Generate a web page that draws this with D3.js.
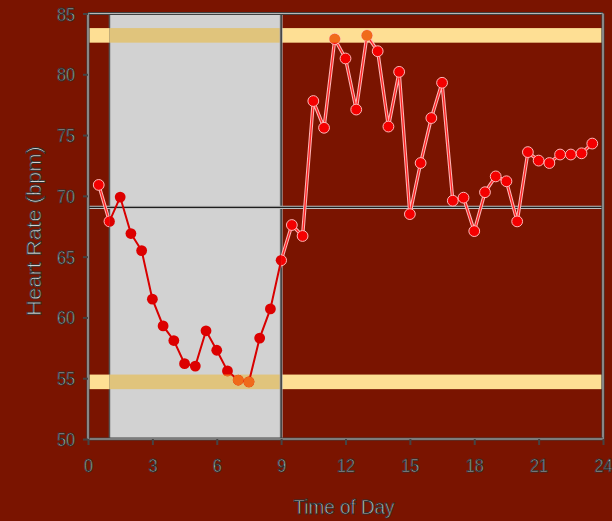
<!DOCTYPE html>
<html><head><meta charset="utf-8">
<script src="https://cdn.jsdelivr.net/npm/d3@7"></script>
<style>
html,body{margin:0;padding:0;background:#7a1400;}
svg{display:block;}
text{font-family:"Liberation Sans",Arial,sans-serif;fill:#d2d2d2;stroke:#2e2e2e;stroke-width:0.9px;}
</style></head><body>
<svg id="chart" width="612" height="521"></svg>
<script>
// ---- data ----
const hours = [0.5,1,1.5,2,2.5,3,3.5,4,4.5,5,5.5,6,6.5,7,7.5,8,8.5,9,9.5,10,10.5,11,11.5,12,12.5,13,13.5,14,14.5,15,15.5,16,16.5,17,17.5,18,18.5,19,19.5,20,20.5,21,21.5,22,22.5,23,23.5];
const heartRate = [70.9,67.9,69.9,66.9,65.5,61.5,59.3,58.1,56.2,56.0,58.9,57.3,55.6,54.85,54.7,58.3,60.7,64.7,67.6,66.7,77.8,75.6,82.9,81.3,77.1,83.2,81.9,75.7,80.2,68.5,72.7,76.4,79.3,69.6,69.85,67.1,70.3,71.6,71.2,67.9,73.6,72.9,72.7,73.4,73.4,73.5,74.3];
const xTicks = [0,3,6,9,12,15,18,21,24];
const yTicks = [50,55,60,65,70,75,80,85];
const nightShade = [1, 9];   // shaded (sleep) period, hours
const bandHalfWidth = 0.6;   // half width of the min / max bands, bpm
const xTitle = "Time of Day";
const yTitle = "Heart Rate (bpm)";

// ---- layout ----
const L = 88, R = 603, T = 13.5, B = 439;
const svg = d3.select("#chart");
const x = d3.scaleLinear().domain([0,24]).range([L,R]);
const y = d3.scaleLinear().domain([50,85]).range([B,T]);

const pts = hours.map((h,i)=>({h, v:heartRate[i]}));
const meanV = d3.mean(heartRate);
const bands = [d3.max(heartRate), d3.min(heartRate)];

const defs = svg.append("defs");
const cDark = defs.append("clipPath").attr("id","cDark");
cDark.append("rect").attr("x",L).attr("y",T).attr("width",x(nightShade[0])-L).attr("height",B-T);
cDark.append("rect").attr("x",x(nightShade[1])).attr("y",T).attr("width",R-x(nightShade[1])).attr("height",B-T);
const cNight = defs.append("clipPath").attr("id","cNight");
cNight.append("rect").attr("x",x(nightShade[0])).attr("y",T).attr("width",x(nightShade[1])-x(nightShade[0])).attr("height",B-T);
const cBand = defs.append("clipPath").attr("id","cBand");
bands.forEach(b=>cBand.append("rect").attr("x",L).attr("width",R-L)
  .attr("y",y(b+bandHalfWidth)).attr("height",y(b-bandHalfWidth)-y(b+bandHalfWidth)));

svg.append("rect").attr("x",L).attr("y",T).attr("width",R-L).attr("height",B-T).attr("fill","#7a1400");
svg.append("rect").attr("x",x(nightShade[0])).attr("y",T)
  .attr("width",x(nightShade[1])-x(nightShade[0])).attr("height",B-T)
  .attr("fill","#d2d2d2").attr("stroke","#555").attr("stroke-width",1.5);

bands.forEach(b=>{
  const g = svg.append("g");
  g.append("rect").attr("clip-path","url(#cDark)").attr("x",L).attr("width",R-L)
   .attr("y",y(b+bandHalfWidth)).attr("height",y(b-bandHalfWidth)-y(b+bandHalfWidth))
   .attr("fill","#fedf94");
  g.append("rect").attr("clip-path","url(#cNight)").attr("x",L).attr("width",R-L)
   .attr("y",y(b+bandHalfWidth)).attr("height",y(b-bandHalfWidth)-y(b+bandHalfWidth))
   .attr("fill","#e0c47c");
});

svg.append("line").attr("x1",x(nightShade[1])).attr("x2",x(nightShade[1])).attr("y1",T).attr("y2",B)
  .attr("stroke","#aaa").attr("stroke-width",3);
svg.append("line").attr("x1",x(nightShade[1])).attr("x2",x(nightShade[1])).attr("y1",T).attr("y2",B)
  .attr("stroke","#222").attr("stroke-width",1.2);

svg.append("line").attr("x1",L).attr("x2",R).attr("y1",y(meanV)).attr("y2",y(meanV))
  .attr("stroke","#bdbdbd").attr("stroke-width",3.2);
svg.append("line").attr("x1",L).attr("x2",R).attr("y1",y(meanV)).attr("y2",y(meanV))
  .attr("stroke","#1e1e1e").attr("stroke-width",1.2);

const line = d3.line().x(d=>x(d.h)).y(d=>y(d.v));
svg.append("path").datum(pts).attr("clip-path","url(#cNight)").attr("d",line)
  .attr("fill","none").attr("stroke","#d80000").attr("stroke-width",2);
svg.append("path").datum(pts).attr("clip-path","url(#cDark)").attr("d",line)
  .attr("fill","none").attr("stroke","#ffb4b4").attr("stroke-width",3.4);
svg.append("path").datum(pts).attr("clip-path","url(#cDark)").attr("d",line)
  .attr("fill","none").attr("stroke","#ff2020").attr("stroke-width",1.3);

svg.append("g").attr("clip-path","url(#cDark)").selectAll("circle").data(pts).join("circle")
  .attr("cx",d=>x(d.h)).attr("cy",d=>y(d.v)).attr("r",5.4)
  .attr("fill","#f40000").attr("stroke","#ffb8b8").attr("stroke-width",1);
svg.append("g").attr("clip-path","url(#cNight)").selectAll("circle").data(pts).join("circle")
  .attr("cx",d=>x(d.h)).attr("cy",d=>y(d.v)).attr("r",5.4).attr("fill","#dc0000");
svg.append("g").attr("clip-path","url(#cBand)").selectAll("circle").data(pts).join("circle")
  .attr("cx",d=>x(d.h)).attr("cy",d=>y(d.v)).attr("r",5.4).attr("fill","#f06a1a");

function frameLine(x1,y1,x2,y2){
  svg.append("line").attr("x1",x1).attr("y1",y1).attr("x2",x2).attr("y2",y2)
    .attr("stroke","#404040").attr("stroke-width",3.2);
  svg.append("line").attr("x1",x1).attr("y1",y1).attr("x2",x2).attr("y2",y2)
    .attr("stroke","#b8b8b8").attr("stroke-width",1.2);
}
frameLine(L,T,R,T); frameLine(R,T,R,B); frameLine(L,B,R,B); frameLine(L,T,L,B);

const xAxis = svg.append("g").attr("transform",`translate(0,${B})`)
  .call(d3.axisBottom(x).tickValues(xTicks).tickSize(6).tickPadding(8));
const yAxis = svg.append("g").attr("transform",`translate(${L},0)`)
  .call(d3.axisLeft(y).tickValues(yTicks).tickSize(5).tickPadding(8));
[xAxis,yAxis].forEach(a=>{
  a.select(".domain").remove();
  a.selectAll(".tick line").attr("stroke","#444").attr("stroke-width",2);
  a.selectAll(".tick text").attr("font-size",18).attr("fill",null).attr("stroke",null);
});
xAxis.selectAll(".tick text").attr("dy",null).attr("y",null)
  .attr("transform","translate(0,33) scale(0.9,1)");
yAxis.selectAll(".tick text").attr("x",null).attr("dy",null)
  .attr("transform","translate(-13,6.5) scale(0.9,1)");

svg.append("text").attr("text-anchor","middle").attr("font-size",21)
  .attr("transform","translate(344,514) scale(0.9,1)").text(xTitle);
svg.append("text").attr("text-anchor","middle").attr("font-size",22)
  .attr("transform","translate(41,231) rotate(-90) scale(1,0.9)").text(yTitle);
</script>
</body></html>
